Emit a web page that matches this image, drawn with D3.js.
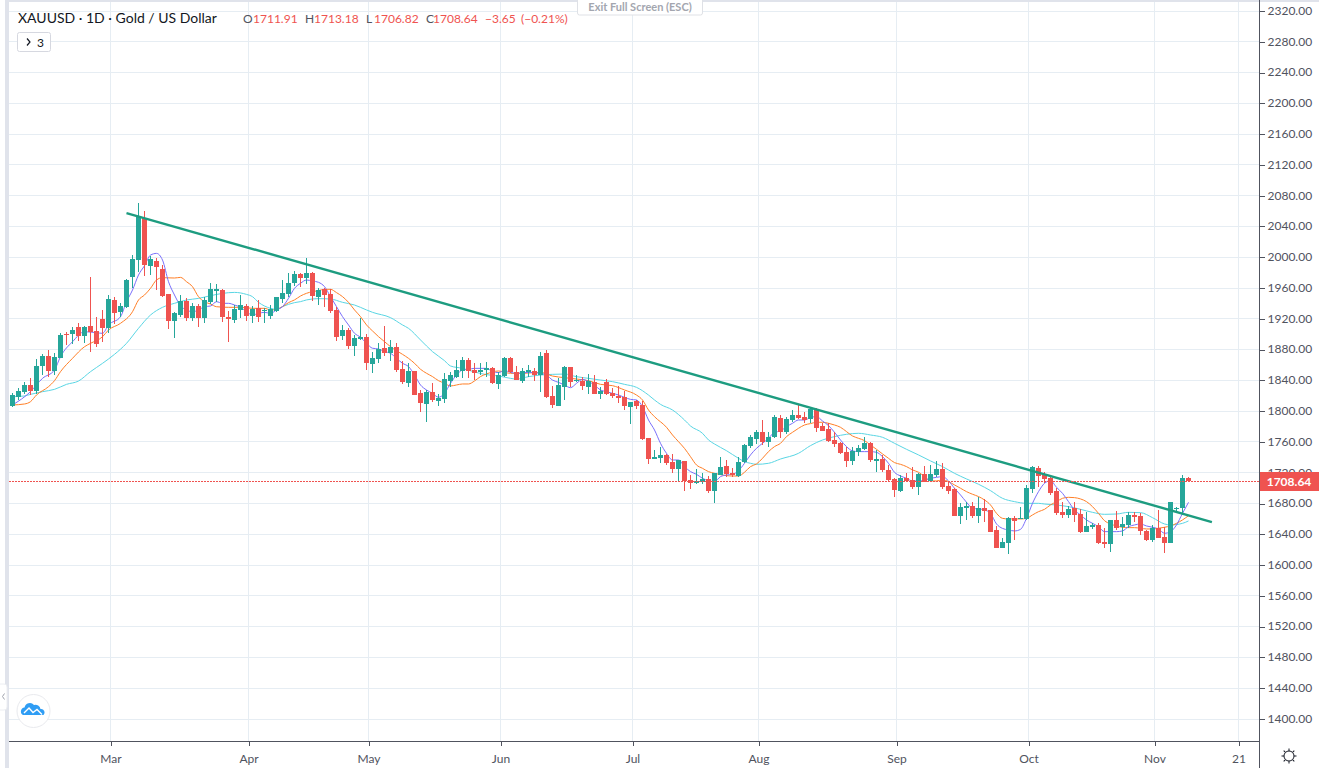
<!DOCTYPE html>
<html>
<head>
<meta charset="utf-8">
<title>XAUUSD</title>
<script src="https://cdn.jsdelivr.net/npm/d3@7/dist/d3.min.js"></script>
<style>
	html, body { margin: 0; padding: 0; background: #fff; overflow: hidden; }
	text { font-family: "Lato", "Noto Sans", sans-serif; }
</style>
</head>
<body>
<div id="chart-area"></div>
<script>

// Daily candles, one entry per bar
const opens = [
	1806.0,1818.2,1823.8,1833.3,1825.5,1858.0,1871.0,1851.5,1868.4,1899.2,
	1899.6,1908.7,1897.4,1910.0,1903.5,1919.1,1906.9,1943.8,1928.2,1935.1,
	1973.2,1995.7,2049.9,1988.4,1994.4,1984.0,1951.1,1916.9,1924.7,1942.9,
	1920.8,1936.0,1920.8,1941.6,1955.9,1956.8,1922.1,1917.8,1930.8,1935.5,
	1923.0,1932.9,1929.5,1923.5,1929.5,1945.1,1951.6,1965.5,1977.6,1972.9,
	1978.9,1948.2,1958.1,1951.6,1930.8,1897.1,1904.9,1884.5,1893.2,1895.3,
	1861.1,1867.6,1881.5,1875.0,1882.3,1853.8,1836.0,1851.6,1822.6,1809.1,
	1824.3,1813.0,1815.6,1839.0,1844.2,1851.6,1865.4,1852.9,1849.9,1852.5,
	1855.5,1834.7,1845.5,1868.0,1850.2,1839.0,1849.8,1851.1,1846.3,1874.5,
	1819.0,1806.5,1831.2,1856.3,1839.0,1839.0,1831.2,1837.2,1821.6,1837.2,
	1822.5,1819.5,1818.2,1804.3,1813.0,1807.3,1764.5,1737.2,1738.9,1742.4,
	1733.3,1724.2,1734.6,1709.9,1706.0,1707.7,1711.2,1695.6,1716.8,1728.1,
	1718.6,1715.1,1733.3,1754.6,1763.2,1772.3,1759.8,1765.4,1790.5,1772.8,
	1787.9,1794.4,1791.4,1789.2,1802.2,1779.7,1776.2,1761.9,1758.5,1746.3,
	1735.1,1746.8,1750.2,1757.6,1735.1,1737.2,1723.0,1710.8,1695.7,1712.1,
	1710.0,1701.3,1717.8,1708.2,1716.4,1724.3,1701.7,1698.3,1663.6,1674.0,
	1676.2,1663.6,1673.6,1670.5,1645.0,1621.6,1628.5,1660.1,1658.8,1659.2,
	1698.2,1725.5,1716.4,1712.5,1695.2,1668.3,1664.4,1673.5,1665.3,1642.8,
	1648.9,1651.4,1629.4,1627.2,1658.4,1648.9,1651.0,1664.0,1663.1,1644.1,
	1632.0,1647.1,1635.4,1628.5,1671.8,1674.0,1711.91
];
const highs = [
	1823.4,1829.0,1837.7,1842.0,1866.7,1873.6,1878.8,1874.5,1900.5,1902.6,
	1908.3,1914.3,1910.0,1973.2,1921.2,1930.8,1950.3,1947.2,1940.3,1971.1,
	2002.2,2069.4,2059.0,2000.9,1997.9,1989.2,1951.6,1928.6,1950.3,1945.9,
	1940.3,1938.1,1948.1,1965.4,1964.1,1957.6,1929.5,1937.3,1950.3,1938.6,
	1936.0,1943.8,1933.0,1937.3,1948.2,1969.8,1978.5,1981.5,1979.3,1998.0,
	1980.6,1959.0,1959.0,1957.7,1934.3,1911.4,1907.0,1898.4,1920.0,1899.2,
	1876.7,1888.4,1910.0,1891.9,1887.5,1865.0,1861.5,1852.0,1826.9,1826.9,
	1835.6,1821.3,1849.4,1850.7,1865.9,1869.3,1868.0,1861.5,1861.5,1863.7,
	1857.2,1850.7,1869.3,1870.2,1858.0,1855.0,1859.3,1855.0,1875.8,1878.8,
	1832.0,1842.0,1858.0,1856.3,1846.3,1843.3,1847.2,1846.3,1831.2,1840.7,
	1829.0,1832.5,1826.0,1811.7,1813.8,1813.0,1764.9,1748.9,1752.3,1743.7,
	1743.7,1735.9,1735.0,1716.4,1723.8,1719.4,1715.1,1719.4,1739.4,1735.9,
	1725.1,1739.4,1756.7,1768.4,1774.9,1787.9,1772.8,1794.4,1794.4,1792.3,
	1800.9,1807.4,1798.7,1805.2,1803.1,1783.6,1783.6,1772.8,1758.9,1753.3,
	1753.3,1755.4,1766.3,1758.9,1748.9,1742.4,1729.4,1712.1,1716.4,1718.6,
	1727.3,1718.6,1728.6,1729.4,1734.6,1731.6,1708.7,1699.1,1679.6,1680.9,
	1680.9,1687.4,1685.3,1671.0,1650.2,1634.1,1662.3,1663.1,1675.3,1703.4,
	1728.5,1728.1,1720.7,1714.3,1699.1,1681.8,1676.1,1681.8,1671.8,1668.8,
	1654.5,1653.6,1647.1,1657.9,1670.1,1662.3,1668.8,1668.8,1666.6,1644.9,
	1651.5,1670.9,1649.3,1681.8,1675.3,1716.4,1713.18
];
const lows = [
	1804.3,1813.8,1821.6,1820.3,1821.6,1846.3,1844.2,1846.3,1868.0,1885.3,
	1886.6,1890.9,1888.3,1876.6,1882.3,1889.6,1900.5,1912.6,1922.1,1932.9,
	1959.4,1980.6,1975.0,1976.3,1956.8,1947.2,1906.1,1894.0,1922.1,1916.9,
	1916.9,1909.1,1914.3,1938.6,1941.6,1915.6,1889.6,1914.3,1920.0,1916.5,
	1914.3,1915.6,1914.4,1919.2,1928.7,1939.5,1948.2,1962.0,1960.3,1964.2,
	1943.0,1937.3,1935.2,1926.5,1891.0,1891.9,1880.2,1871.1,1891.9,1852.9,
	1849.4,1861.5,1871.5,1865.0,1850.7,1834.7,1831.2,1820.4,1797.9,1785.8,
	1811.7,1806.5,1810.4,1831.2,1842.0,1842.0,1842.0,1839.9,1846.4,1844.2,
	1834.7,1827.8,1844.2,1848.6,1839.4,1836.4,1843.3,1839.0,1824.7,1816.0,
	1803.9,1806.5,1813.8,1831.2,1837.7,1826.8,1821.6,1821.6,1815.1,1819.9,
	1816.0,1810.4,1800.8,1782.7,1802.2,1761.9,1730.7,1736.8,1731.6,1729.4,
	1719.4,1707.7,1696.0,1698.2,1704.7,1704.7,1692.6,1680.5,1716.4,1714.2,
	1713.4,1713.4,1732.4,1751.1,1756.7,1755.4,1753.3,1764.1,1764.1,1769.3,
	1785.8,1789.2,1783.6,1783.6,1772.8,1773.6,1758.9,1753.3,1743.7,1727.3,
	1729.4,1741.6,1748.9,1733.8,1719.9,1720.8,1708.7,1688.3,1694.8,1706.9,
	1698.3,1690.5,1706.9,1707.8,1714.3,1698.3,1691.3,1663.6,1652.8,1658.0,
	1660.2,1653.7,1655.0,1642.8,1621.1,1621.1,1613.8,1632.0,1658.8,1657.9,
	1693.5,1700.4,1705.6,1690.4,1664.4,1660.1,1661.0,1655.8,1641.5,1642.8,
	1645.8,1626.8,1622.0,1616.8,1645.0,1637.2,1647.1,1655.8,1638.5,1631.1,
	1629.8,1634.1,1615.5,1627.6,1668.8,1664.4,1706.82
];
const closes = [
	1819.9,1825.5,1833.3,1826.0,1858.0,1871.0,1851.1,1869.7,1898.3,1898.3,
	1904.8,1897.0,1909.1,1901.8,1887.0,1907.4,1945.1,1927.3,1936.0,1969.8,
	1996.6,2051.2,1989.7,1996.6,1987.1,1949.0,1916.9,1926.4,1942.5,1920.8,
	1936.0,1920.8,1943.8,1958.1,1958.1,1922.1,1918.6,1931.6,1937.3,1923.4,
	1932.1,1922.1,1930.8,1931.7,1947.7,1952.9,1965.9,1977.6,1972.9,1978.5,
	1949.5,1956.8,1950.8,1930.0,1896.2,1904.9,1884.1,1894.5,1895.8,1862.4,
	1868.0,1879.7,1875.4,1882.8,1852.9,1837.3,1851.2,1820.8,1810.0,1823.9,
	1814.3,1816.5,1840.8,1846.4,1852.9,1865.9,1851.6,1849.4,1852.5,1855.5,
	1836.4,1846.4,1868.0,1849.9,1839.8,1851.5,1852.8,1846.8,1871.0,1817.3,
	1807.8,1833.3,1856.7,1837.2,1839.8,1832.5,1839.0,1821.6,1825.5,1821.6,
	1819.0,1816.4,1806.5,1811.2,1806.5,1763.2,1737.6,1739.8,1742.4,1731.6,
	1723.8,1735.9,1708.6,1706.0,1708.2,1710.8,1695.6,1718.6,1726.8,1717.3,
	1716.0,1733.3,1755.4,1765.8,1771.9,1759.8,1765.8,1791.4,1772.8,1789.2,
	1794.4,1790.5,1787.9,1802.2,1778.0,1774.1,1761.1,1756.7,1745.5,1735.1,
	1747.6,1751.1,1757.6,1736.4,1736.8,1723.0,1710.4,1697.0,1712.1,1709.1,
	1701.3,1717.8,1707.8,1717.8,1724.3,1701.3,1695.7,1663.6,1674.4,1676.2,
	1663.6,1673.1,1670.1,1642.8,1621.6,1628.9,1660.1,1657.1,1660.1,1700.0,
	1726.4,1715.1,1711.7,1693.0,1667.0,1664.4,1672.7,1664.9,1642.4,1650.2,
	1651.0,1628.5,1626.8,1657.5,1648.0,1652.3,1664.0,1661.8,1644.1,1632.0,
	1648.0,1635.0,1628.1,1681.3,1673.1,1712.1,1708.64
];

// Moving averages, read at the bars where the line could be seen
const fastBars = [
	0,3,5,7,8,10,12,14,15,16,18,19,20,21,22,23,24,25,26,27,28,29,30,31,32,33,34,35,36,37,38,39,40,41,
	42,43,44,45,46,47,48,49,50,51,52,53,54,55,56,57,58,59,60,61,62,63,64,65,66,67,68,69,70,71,72,73,74,75,76,77,78,79,80,81,82,
	83,84,86,88,89,90,91,92,93,94,95,96,97,98,99,100,101,102,103,104,105,106,107,108,109,110,111,112,113,114,115,116,117,118,119,120,
	121,122,123,124,125,126,127,128,129,130,131,132,133,134,135,136,137,138,139,140,141,142,143,144,145,146,147,148,149,150,151,152,153,154,155,156,157,158,159,160,161,162,
	163,164,165,166,167,168,169,170,171,172,173,174,175,176,177,178,179,180,181,182,183,184,185,186,187,188,189,190,191,192,193,194,195,196
];
const fastValues = [
	1807.4,1824.7,1842,1852.9,1870.2,1889.6,1902.6,1901.3,1900.5,1911.3,1922.1,1941.6,1956.8,1976.3,1988.4,2002.2,2004.4,1995.7,1967.6,1950.3,1936.4,1930.8,1928.6,1930.8,1935.1,1936,1941.6,1939.5,1939.5,1937.3,1934.3,1928.6,1924.3,1926.5,
	1927.8,1926.5,1930.9,1935.2,1946,1959,1965.5,1969.8,1968.5,1966.8,1961.2,1948.2,1935.2,1922.2,1911.4,1900.6,1895.4,1887.6,1881.1,1880.2,1876.7,1874.6,1868,1861.6,1857.3,1846.4,1833.4,1826.9,1822.6,1817.4,1822.6,1835.6,1846.4,1852.9,1853.8,1855,1855,1855,1850.8,1849.5,1852,
	1849.8,1848.5,1849.8,1848.5,1846.3,1839.8,1836.8,1833.3,1829.9,1835.5,1840.7,1837.7,1833.3,1826.9,1824.7,1822.5,1820.4,1817.3,1814.7,1813.9,1805.2,1787.9,1774.9,1757.6,1744.6,1735.9,1735.9,1727.3,1720.8,1717.3,1712.1,1709.1,1707.8,1714.3,1716.4,1717.3,
	1722,1731.6,1742.5,1751.1,1757.6,1764.1,1771.9,1773.6,1779.3,1783.6,1787.9,1787.9,1791,1792.3,1786.6,1780.6,1771.9,1761.9,1753.3,1747.7,1746.8,1746.8,1746.8,1745.9,1740.3,1731.6,1719.9,1715.2,1712.1,1708.7,1708.7,1710,1712.1,1713.4,1714.3,1708.7,1699.2,1690.5,1681,1673.2,1672.3,1671,
	1666.6,1652.8,1647,1645,1643.7,1645.8,1660.1,1679.6,1694.8,1705.6,1709,1700.4,1692.6,1681.8,1671,1664.5,1658,1653.6,1649.3,1642.8,1642.8,1642.8,1643.7,1649.3,1651.5,1652.8,1650.2,1648.5,1646.3,1640.7,1642.8,1651.5,1666.6,1680.9
];
const midBars = [
	0,2,3,4,6,7,8,10,12,13,15,16,18,20,21,22,23,24,25,27,28,29,30,31,32,33,34,36,38,40,
	42,43,44,45,46,47,48,49,50,51,52,53,54,55,56,57,58,59,60,61,62,63,64,65,66,67,68,69,70,71,72,73,74,75,76,77,78,79,80,81,
	83,85,88,90,92,94,96,98,100,102,104,105,106,107,109,110,111,112,113,114,115,116,117,118,119,120,121,
	122,123,124,125,126,127,128,129,130,131,132,133,134,135,136,137,138,139,140,141,142,143,144,145,146,147,148,149,150,151,152,153,154,155,156,157,158,159,160,161,162,163,
	164,165,166,168,169,170,171,172,173,174,175,176,177,178,179,180,181,182,183,184,185,186,187,188,189,190,191,192,193,194,195,196
];
const midValues = [
	1807.4,1808.7,1811.7,1820.4,1831.2,1839,1850.7,1868,1883.1,1887.5,1896.1,1904.8,1913.5,1928.6,1943.8,1950.3,1959,1969.8,1972.8,1972.4,1973.2,1967.6,1961.1,1948.1,1941.6,1938.6,1935.1,1934.3,1934.3,1933,
	1933,1930.9,1931.7,1935.2,1940.4,1943.9,1949,1952.5,1954.7,1956,1957.7,1957.7,1953.4,1948.2,1940.8,1930.9,1922.2,1911.4,1903.6,1896.2,1889.7,1883.2,1878,1873.2,1868,1861.6,1853.8,1848.6,1844.3,1839,1835.6,1832.1,1833.4,1834.7,1834.7,1838.6,1844.3,1847.7,1850.3,1851.6,
	1848.5,1848.5,1849.8,1845,1842.9,1841.1,1839,1834.2,1832.5,1826.9,1820.3,1813.9,1800.9,1792.2,1778.4,1768.4,1759.7,1751,1740.2,1729.4,1725.1,1720.8,1718.6,1716.9,1715.6,1715.1,1715.1,
	1720,1727.3,1730.8,1738.1,1746.8,1753.3,1757.6,1766.3,1771.9,1777.1,1781.4,1783.2,1784.9,1784.9,1783.6,1781.4,1778.4,1772.8,1767.1,1764.1,1761.1,1755.4,1749.8,1743.8,1738.1,1732.5,1730.3,1727.3,1723,1720,1714.3,1708.7,1708.7,1710,1707.8,1703.5,1699.2,1694.8,1691.4,1688.4,1684,1677.5,
	1666.6,1660.1,1659.3,1659.3,1660.1,1664.5,1668.8,1671.8,1677.5,1681.8,1686.1,1687.4,1687,1685.3,1681.8,1675.3,1666.6,1657.1,1652.8,1650.2,1648.5,1648,1648,1647.2,1646.3,1646.3,1647.2,1648.5,1650.2,1653.6,1658,1663.6
];
const slowBars = [
	0,2,3,5,7,9,11,13,15,17,19,21,23,25,27,29,31,33,35,37,39,40,
	41,42,43,44,45,46,47,48,49,51,53,55,57,59,60,63,65,66,68,70,72,73,75,77,79,81,83,
	84,86,88,90,92,94,96,98,100,102,104,106,107,108,110,112,113,115,116,117,119,121,122,123,
	124,126,128,131,133,135,137,139,141,143,145,147,149,151,153,155,157,159,161,163,
	165,167,169,171,172,174,176,178,180,182,184,186,188,190,192,193,195,196
];
const slowValues = [
	1818.2,1819.1,1821.2,1824.7,1827.7,1834.2,1838.5,1850.7,1861.5,1873.2,1887.5,1907,1924.3,1934.3,1939.5,1943.8,1945.9,1949.4,1952.4,1953.7,1951.1,1948.1,
	1940.8,1936,1933,1931.7,1935.2,1938.2,1940.4,1941.7,1943.9,1945.6,1945.1,1940.8,1937.3,1930.9,1927.8,1920.9,1911.4,1907,1891.9,1876.7,1865,1858.1,1855,1850.3,1846.8,1845.1,1842,
	1841.1,1844.2,1846.3,1847.2,1847.6,1844.2,1842,1839.8,1837.7,1834.2,1830.3,1820.3,1813.9,1808.2,1800.9,1787.9,1780.1,1770.6,1761.9,1756.7,1748,1738.1,1733.8,1731.6,
	1730.3,1731.6,1737.2,1744.6,1754.6,1761.9,1766.3,1769.3,1770.6,1768.4,1765.4,1757.6,1749.8,1742.5,1734.7,1727.3,1718.6,1711.3,1704.4,1696.1,
	1686.1,1681.8,1679.6,1679.6,1678.7,1677.4,1675.3,1671.8,1667.9,1665.3,1665.7,1667.9,1667.5,1661,1652.8,1651.5,1653.6,1656.7
];

// Trend line drawn by hand on the chart
const trendBars = [19, 199.9];
const trendValues = [2056.8, 1655.3];

const priceTicks = [1400,1440,1480,1520,1560,1600,1640,1680,1720,1760,1800,1840,1880,1920,1960,2000,2040,2080,2120,2160,2200,2240,2280,2320];
const dateBars = [16,39,59,81,103,124,147,169,190,204];
const dateLabels = ["Mar","Apr","May","Jun","Jul","Aug","Sep","Oct","Nov","21"];

const lastClose = 1708.64;

// SVG Size
let width = 1319,
	height = 768;

let plot = {left: 9, right: 1259, bottom: 741};

let svg = d3.select("#chart-area").append("svg")
	.attr("width", width)
	.attr("height", height)
	.style("display", "block");

let upColor = "#26a69a",
	downColor = "#ef5350",
	gridColor = "#e6edf3",
	axisColor = "#50535e",
	edgeColor = "#e0e3eb";

let xScale = d3.scaleLinear().domain([0, 196]).range([12.5, 1188.5]);
let yScale = d3.scaleLinear().domain([1400, 2320]).range([718.5, 10.5]);

let bars = opens.map((o, i) => ({i: i, open: o, high: highs[i], low: lows[i], close: closes[i]}));

// window edges
svg.append("rect").attr("x", 5).attr("y", 0).attr("width", 4).attr("height", height).attr("fill", edgeColor);
svg.append("rect").attr("x", 5).attr("y", 0).attr("width", width - 5).attr("height", 2).attr("fill", edgeColor);

// grid, the ticks sit 1px right of the bar they belong to
let gridX = svg.append("g").attr("shape-rendering", "crispEdges");
gridX.selectAll("line").data(dateBars).enter().append("line")
	.attr("x1", d => Math.round(xScale(d)) + 1.5)
	.attr("x2", d => Math.round(xScale(d)) + 1.5)
	.attr("y1", 2)
	.attr("y2", plot.bottom)
	.attr("stroke", gridColor);

let gridY = svg.append("g").attr("shape-rendering", "crispEdges");
gridY.selectAll("line").data(priceTicks).enter().append("line")
	.attr("x1", plot.left)
	.attr("x2", plot.right)
	.attr("y1", d => Math.round(yScale(d)) + 0.5)
	.attr("y2", d => Math.round(yScale(d)) + 0.5)
	.attr("stroke", gridColor);

// moving averages go under the candles
function drawAverage(barList, values, color) {
	let line = d3.line()
		.x((d, i) => xScale(barList[i]))
		.y(d => yScale(d))
		.curve(d3.curveMonotoneX);

	svg.append("path")
		.datum(values)
		.attr("d", line)
		.attr("fill", "none")
		.attr("stroke", color)
		.attr("stroke-width", 1);
}
drawAverage(slowBars, slowValues, "#5ad6e4");
drawAverage(midBars, midValues, "#ff7f27");
drawAverage(fastBars, fastValues, "#7a6ffb");

// candles
let candles = svg.append("g").attr("shape-rendering", "crispEdges");

candles.selectAll(".wick").data(bars).enter().append("line")
	.attr("class", "wick")
	.attr("x1", d => Math.floor(xScale(d.i)) + 0.5)
	.attr("x2", d => Math.floor(xScale(d.i)) + 0.5)
	.attr("y1", d => yScale(d.high))
	.attr("y2", d => yScale(d.low))
	.attr("stroke", d => d.close >= d.open ? upColor : downColor);

candles.selectAll(".body").data(bars).enter().append("rect")
	.attr("class", "body")
	.attr("x", d => Math.floor(xScale(d.i)) - 2)
	.attr("width", 5)
	.attr("y", d => Math.round(yScale(Math.max(d.open, d.close))))
	.attr("height", d => Math.max(1, Math.round(yScale(Math.min(d.open, d.close))) - Math.round(yScale(Math.max(d.open, d.close)))))
	.attr("fill", d => d.close >= d.open ? upColor : downColor);

// trend line on top
svg.append("line")
	.attr("x1", xScale(trendBars[0]))
	.attr("x2", xScale(trendBars[1]))
	.attr("y1", yScale(trendValues[0]))
	.attr("y2", yScale(trendValues[1]))
	.attr("stroke", "#1d9c80")
	.attr("stroke-width", 2.4);

// last price line
svg.append("line")
	.attr("x1", plot.left)
	.attr("x2", plot.right)
	.attr("y1", Math.round(yScale(lastClose)) + 0.5)
	.attr("y2", Math.round(yScale(lastClose)) + 0.5)
	.attr("stroke", downColor)
	.attr("stroke-dasharray", "2,1")
	.attr("shape-rendering", "crispEdges");

// price axis
svg.append("rect").attr("x", plot.right).attr("y", 0).attr("width", width - plot.right).attr("height", height).attr("fill", "#fff").lower();

let priceAxis = svg.append("g")
	.attr("transform", "translate(" + (plot.right + 0.5) + ",0)")
	.call(d3.axisRight(yScale).tickValues(priceTicks).tickSize(5).tickPadding(3).tickFormat(d3.format(".2f")));
priceAxis.selectAll("line").attr("stroke", axisColor).attr("y1", 0.5).attr("y2", 0.5).attr("shape-rendering", "crispEdges");
priceAxis.selectAll("text").attr("fill", axisColor).style("font-size", "12px").style("font-family", "'Lato', sans-serif");
priceAxis.select(".domain").remove();

// date axis
let dateScale = d3.scaleOrdinal().domain(dateBars).range(dateBars.map(d => Math.round(xScale(d)) + 1.5));
let dateAxis = svg.append("g")
	.attr("transform", "translate(0," + (plot.bottom + 0.5) + ")")
	.call(d3.axisBottom(dateScale).tickSize(4).tickPadding(9).tickFormat((d, i) => dateLabels[i]));
dateAxis.selectAll("line").attr("stroke", axisColor).attr("shape-rendering", "crispEdges");
dateAxis.selectAll("text").attr("fill", axisColor).style("font-size", "12px").style("font-family", "'Lato', sans-serif");
dateAxis.select(".domain").remove();

svg.append("line").attr("x1", plot.left).attr("x2", plot.right).attr("y1", plot.bottom + 0.5).attr("y2", plot.bottom + 0.5)
	.attr("stroke", axisColor).attr("shape-rendering", "crispEdges");
svg.append("line").attr("x1", plot.right + 0.5).attr("x2", plot.right + 0.5).attr("y1", 0).attr("y2", height)
	.attr("stroke", axisColor).attr("shape-rendering", "crispEdges");

// last price label
svg.append("rect").attr("x", plot.right + 1).attr("y", 472).attr("width", width - plot.right - 1).attr("height", 19).attr("fill", downColor);
svg.append("text")
	.attr("x", 1289)
	.attr("y", 486)
	.attr("text-anchor", "middle")
	.attr("fill", "#fff")
	.attr("font-weight", 700)
	.attr("font-size", 12)
	.text(d3.format(".2f")(lastClose));

// legend
svg.append("text").attr("x", 18).attr("y", 23).attr("fill", "#131722").attr("font-size", 14).text("XAUUSD · 1D · Gold / US Dollar");

let legend = [
	["O", 243, "#50535e"], ["1711.91", 253, downColor],
	["H", 305, "#50535e"], ["1713.18", 314, downColor],
	["L", 366, "#50535e"], ["1706.82", 374, downColor],
	["C", 426, "#50535e"], ["1708.64", 433, downColor],
	["−3.65", 485, downColor], ["(−0.21%)", 521, downColor]
];
svg.append("g").selectAll("text").data(legend).enter().append("text")
	.attr("x", d => d[1])
	.attr("y", 23)
	.attr("fill", d => d[2])
	.attr("font-size", 12)
	.text(d => d[0]);

// collapsed indicators button
svg.append("rect").attr("x", 17.5).attr("y", 32.5).attr("width", 33).attr("height", 19).attr("rx", 2)
	.attr("fill", "#fff").attr("stroke", "#d6d8e0");
svg.append("path").attr("d", "M27 38.5l3 3.5l-3 3.5").attr("fill", "none").attr("stroke", "#131722").attr("stroke-width", 1.2);
svg.append("text").attr("x", 37).attr("y", 46.5).attr("fill", "#131722").attr("font-size", 12).text("3");

// fullscreen hint at the top
svg.append("rect").attr("x", 577.5).attr("y", -4).attr("width", 125).attr("height", 19).attr("rx", 2)
	.attr("fill", "#fff").attr("stroke", "#dfe1e6");
svg.append("text").attr("x", 640).attr("y", 11).attr("text-anchor", "middle").attr("fill", "#a3a6af")
	.attr("font-size", 11).attr("font-weight", 700).text("Exit Full Screen (ESC)");

// logo
svg.append("circle").attr("cx", 33.5).attr("cy", 711).attr("r", 16.5).attr("fill", "#fff").attr("stroke", "#e9eaee");
svg.append("path")
	.attr("d", "M23 715 a4 4 0 0 1 1.5 -7.5 a5.5 5.5 0 0 1 9.5 -2.5 a5 5 0 0 1 6.5 4 a3.5 3.5 0 0 1 3 6 z")
	.attr("fill", "#2f9df4");
svg.append("path").attr("d", "M24 713 l5 -5 l4 4.5 l4 -3 l5 5").attr("fill", "none").attr("stroke", "#fff").attr("stroke-width", 1.4);

// small collapse tab on the left
svg.append("rect").attr("x", -4).attr("y", 684).attr("width", 11).attr("height", 26).attr("rx", 3).attr("fill", "#fff").attr("stroke", "#eceef2");
svg.append("path").attr("d", "M4.5 693.5 l-2 3 l2 3").attr("fill", "none").attr("stroke", "#a0a3ad");

// settings icon
let gear = svg.append("g").attr("transform", "translate(1289,756)");
gear.selectAll("line").data(d3.range(8)).enter().append("line")
	.attr("x1", 0).attr("x2", 0).attr("y1", -5).attr("y2", -7.5)
	.attr("transform", d => "rotate(" + d * 45 + ")")
	.attr("stroke", "#131722");
gear.append("circle").attr("r", 5).attr("fill", "#fff").attr("stroke", "#131722");

</script>
</body>
</html>
